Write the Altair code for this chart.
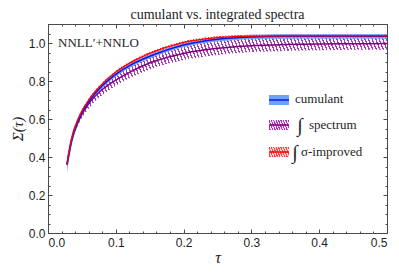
import altair as alt
import pandas as pd

# ---------------- data ----------------
tau = [0.028, 0.035, 0.045, 0.06, 0.08, 0.10, 0.125, 0.15, 0.20, 0.25, 0.30, 0.35, 0.40, 0.45, 0.50]

cumulant    = [0.360, 0.490, 0.595, 0.690, 0.775, 0.835, 0.890, 0.930, 0.990, 1.020, 1.032, 1.035, 1.035, 1.035, 1.035]
cumulant_lo = [0.320, 0.460, 0.575, 0.675, 0.762, 0.823, 0.878, 0.918, 0.978, 1.008, 1.020, 1.023, 1.023, 1.023, 1.023]
cumulant_hi = [0.400, 0.520, 0.615, 0.705, 0.788, 0.847, 0.902, 0.942, 1.002, 1.032, 1.044, 1.047, 1.047, 1.047, 1.047]

spectrum    = [0.360, 0.490, 0.590, 0.680, 0.755, 0.805, 0.855, 0.895, 0.945, 0.972, 0.986, 0.992, 0.995, 0.996, 0.997]
spectrum_lo = [0.350, 0.475, 0.570, 0.655, 0.725, 0.775, 0.822, 0.860, 0.910, 0.937, 0.952, 0.958, 0.962, 0.964, 0.965]
spectrum_hi = [0.370, 0.505, 0.610, 0.705, 0.785, 0.840, 0.890, 0.930, 0.985, 1.012, 1.025, 1.032, 1.036, 1.038, 1.040]

improved    = [0.365, 0.500, 0.605, 0.700, 0.785, 0.847, 0.903, 0.945, 1.003, 1.028, 1.036, 1.037, 1.037, 1.037, 1.037]
improved_lo = [0.350, 0.492, 0.598, 0.693, 0.778, 0.840, 0.896, 0.938, 0.996, 1.021, 1.029, 1.030, 1.030, 1.030, 1.030]
improved_hi = [0.380, 0.508, 0.612, 0.707, 0.792, 0.854, 0.910, 0.952, 1.010, 1.035, 1.043, 1.044, 1.044, 1.044, 1.044]

x_ticks_major = [0.0, 0.1, 0.2, 0.3, 0.4, 0.5]
x_ticks_minor = [i / 50 for i in range(26)]
y_ticks_major = [0.0, 0.2, 0.4, 0.6, 0.8, 1.0]
y_ticks_minor = [i / 20 for i in range(23)]

legend_labels = ["cumulant", "spectrum", "σ-improved"]
title_text = "cumulant vs. integrated spectra"
order_label = "NNLL′+NNLO"

df = pd.DataFrame({
    "tau": tau,
    "cum": cumulant, "cum_lo": cumulant_lo, "cum_hi": cumulant_hi,
    "spec": spectrum, "spec_lo": spectrum_lo, "spec_hi": spectrum_hi,
    "imp": improved, "imp_lo": improved_lo, "imp_hi": improved_hi,
})
one = pd.DataFrame({"k": [0]})

# ---------------- style ----------------
W, H = 339, 209
AX = "#4a4a4a"
SERIF = "Liberation Serif"
SANS = "Liberation Sans"
TXT = "#1e1e1e"
BLUE_BAND = "#6aa3f8"
BLUE = "#1414e6"
PURPLE = "#800080"
PURPLE_HATCH = "#a43cb4"
RED = "#ff0000"
RED_HATCH = "#ff4040"

xs = alt.Scale(domain=[0, 0.5], nice=False, zero=False)
ys = alt.Scale(domain=[0, 1.1], nice=False, zero=False)


def stripes(color, gap, n, duty):
    stops = []
    for i in range(n):
        a, b, c = i / n, (i + duty) / n, (i + 1) / n
        stops += [alt.GradientStop(color=color, offset=a), alt.GradientStop(color=color, offset=b),
                  alt.GradientStop(color=gap, offset=b), alt.GradientStop(color=gap, offset=c)]
    return stops


def hatch(color, gap, n, duty, slope):
    return alt.Gradient(gradient="linear", stops=stripes(color, gap, n, duty),
                        x1=-0.2, y1=1 + slope * 0.2, x2=1.2, y2=1 - slope * 1.2)


purple_fill = hatch(PURPLE_HATCH, "#ffffff", 130, 0.4, 0.164)
red_fill = hatch(RED_HATCH, "rgba(255,210,210,0.3)", 150, 0.4, 0.164)
purple_sw = hatch(PURPLE_HATCH, "#f4dcf6", 12, 0.5, 0.2)
red_sw = hatch(RED_HATCH, "#ffd6d6", 12, 0.5, 0.2)


def ax_lab_x():
    return alt.Axis(orient="bottom", values=x_ticks_major, format=".1f", ticks=False, domain=False,
                    grid=False, labelPadding=4, labelFont=SANS, labelFontSize=12, labelColor=TXT,
                    title="τ", titleFont=SERIF, titleFontStyle="italic", titleFontSize=16,
                    titleFontWeight="normal", titleColor=TXT, titlePadding=1)


def ax_tick_x(orient, vals, size):
    return alt.Axis(orient=orient, offset=-H, values=vals, ticks=True, tickSize=size, tickColor=AX,
                    labels=False, domain=False, grid=False, title="")


def ax_lab_y():
    return alt.Axis(orient="left", values=y_ticks_major, format=".1f", ticks=False, domain=False,
                    grid=False, labelPadding=3, labelFont=SANS, labelFontSize=12, labelColor=TXT,
                    title="Σ(τ)", titleFont=SERIF, titleFontStyle="italic", titleFontSize=15,
                    titleFontWeight="normal", titleColor=TXT, titlePadding=3)


def ax_tick_y(orient, vals, size):
    return alt.Axis(orient=orient, offset=-W, values=vals, ticks=True, tickSize=size, tickColor=AX,
                    labels=False, domain=False, grid=False, title="")


base = alt.Chart(df)

purple_band = base.mark_area(fill=purple_fill, interpolate="monotone").encode(
    x=alt.X("tau:Q", scale=xs, axis=ax_lab_x()),
    y=alt.Y("spec_lo:Q", scale=ys, axis=ax_lab_y()),
    y2="spec_hi:Q",
)
blue_band = base.mark_area(color=BLUE_BAND, opacity=0.9, interpolate="monotone").encode(
    x=alt.X("tau:Q", scale=xs, axis=ax_tick_x("top", x_ticks_major, 4)),
    y=alt.Y("cum_lo:Q", scale=ys, axis=ax_tick_y("right", y_ticks_major, 4)),
    y2="cum_hi:Q",
)
red_band = base.mark_area(fill=red_fill, interpolate="monotone").encode(
    x=alt.X("tau:Q", scale=xs, axis=ax_tick_x("top", x_ticks_minor, 2)),
    y=alt.Y("imp_lo:Q", scale=ys, axis=ax_tick_y("right", y_ticks_minor, 2)),
    y2="imp_hi:Q",
)
purple_line = base.mark_line(color=PURPLE, strokeWidth=1.5, interpolate="monotone").encode(
    x=alt.X("tau:Q", scale=xs, axis=ax_tick_x("bottom", x_ticks_major, 4)),
    y=alt.Y("spec:Q", scale=ys, axis=ax_tick_y("left", y_ticks_major, 4)),
)
blue_line = base.mark_line(color=BLUE, strokeWidth=1.5, interpolate="monotone").encode(
    x=alt.X("tau:Q", scale=xs, axis=ax_tick_x("bottom", x_ticks_minor, 2)),
    y=alt.Y("cum:Q", scale=ys, axis=ax_tick_y("left", y_ticks_minor, 2)),
)
red_line = base.mark_line(color=RED, strokeWidth=1.3, interpolate="monotone").encode(
    x=alt.X("tau:Q", scale=xs, axis=None),
    y=alt.Y("imp:Q", scale=ys, axis=None),
)

# ---------------- annotation + legend ----------------
ann = alt.Chart(one).mark_text(text=order_label, font=SERIF, fontSize=13, color=TXT,
                               align="left", baseline="middle").encode(
    x=alt.value(10), y=alt.value(19))

SX0, SX1 = 221, 241
rows = [76, 101, 128]

sw1 = alt.Chart(one).mark_rect(color=BLUE_BAND).encode(
    x=alt.value(SX0), x2=alt.value(SX1), y=alt.value(rows[0] - 5), y2=alt.value(rows[0] + 5))
sw1l = alt.Chart(one).mark_rule(color=BLUE, strokeWidth=1.5).encode(
    x=alt.value(SX0), x2=alt.value(SX1), y=alt.value(rows[0]))
sw2 = alt.Chart(one).mark_rect(fill=purple_sw).encode(
    x=alt.value(SX0), x2=alt.value(SX1), y=alt.value(rows[1] - 5), y2=alt.value(rows[1] + 5))
sw2l = alt.Chart(one).mark_rule(color=PURPLE, strokeWidth=1.5).encode(
    x=alt.value(SX0), x2=alt.value(SX1), y=alt.value(rows[1]))
sw3 = alt.Chart(one).mark_rect(fill=red_sw).encode(
    x=alt.value(SX0), x2=alt.value(SX1), y=alt.value(rows[2] - 5), y2=alt.value(rows[2] + 5))
sw3l = alt.Chart(one).mark_rule(color=RED, strokeWidth=1.5).encode(
    x=alt.value(SX0), x2=alt.value(SX1), y=alt.value(rows[2]))

t1 = alt.Chart(one).mark_text(text=legend_labels[0], font=SERIF, fontSize=13, color=TXT,
                              align="left", baseline="middle").encode(x=alt.value(247), y=alt.value(rows[0] - 1))
i2 = alt.Chart(one).mark_text(text="∫", font=SERIF, fontSize=20, color=TXT,
                              align="center", baseline="middle").encode(x=alt.value(252), y=alt.value(rows[1] + 1))
t2 = alt.Chart(one).mark_text(text=legend_labels[1], font=SERIF, fontSize=13, color=TXT,
                              align="left", baseline="middle").encode(x=alt.value(261), y=alt.value(rows[1]))
i3 = alt.Chart(one).mark_text(text="∫", font=SERIF, fontSize=20, color=TXT,
                              align="center", baseline="middle").encode(x=alt.value(247), y=alt.value(rows[2] + 1))
t3 = alt.Chart(one).mark_text(text=legend_labels[2], font=SERIF, fontSize=13, color=TXT,
                              align="left", baseline="middle").encode(x=alt.value(253), y=alt.value(rows[2]))

chart = alt.layer(
    purple_band, blue_band, red_band, purple_line, blue_line, red_line,
    ann, sw1, sw1l, sw2, sw2l, sw3, sw3l, t1, i2, t2, i3, t3,
).resolve_axis(x="independent", y="independent").properties(
    width=W, height=H,
    autosize=alt.AutoSizeParams(type="none"),
    padding={"left": 40, "top": 16, "right": 4, "bottom": 33},
    title=alt.TitleParams(title_text, font=SERIF, fontSize=14, fontWeight="normal",
                          color=TXT, anchor="middle", offset=2),
).configure_view(stroke=AX, strokeWidth=1)

chart.save("out.html", embed_options={"renderer": "svg", "actions": False})
